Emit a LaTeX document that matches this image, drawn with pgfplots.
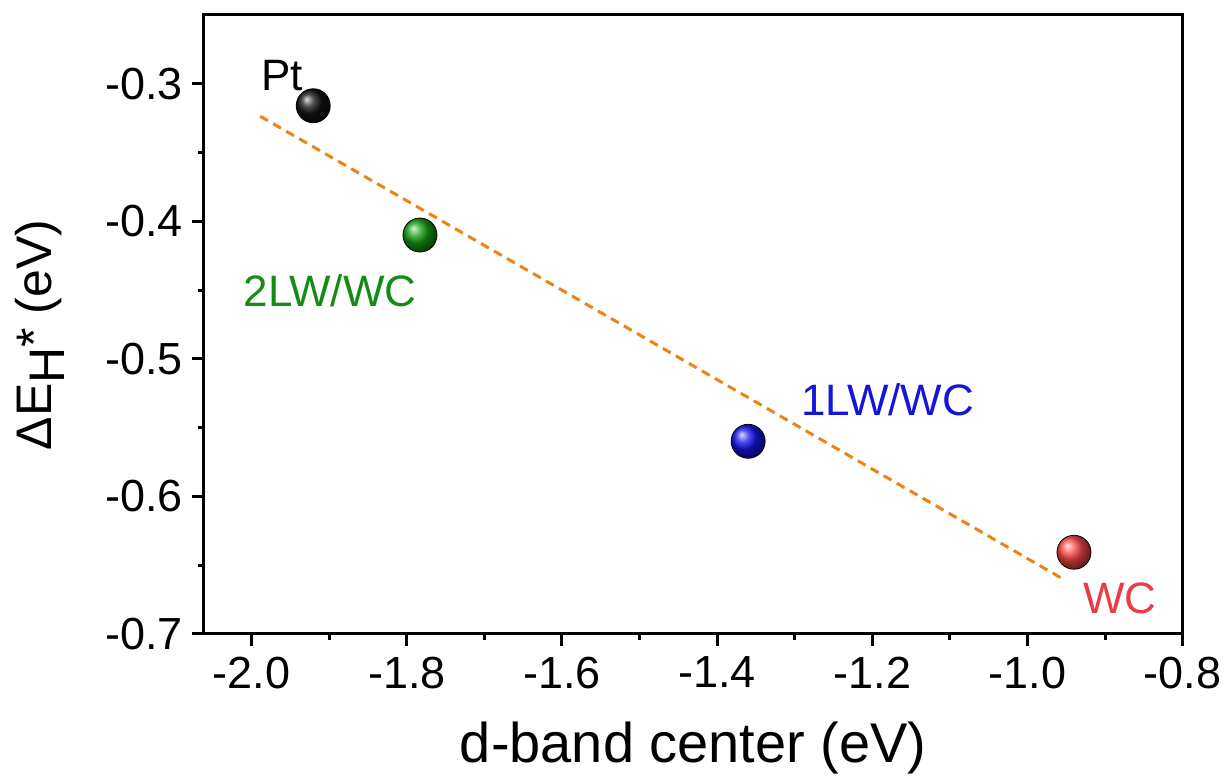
\documentclass[border=0pt]{standalone}
\usepackage{fontspec}
\setmainfont{Liberation Sans}
\usepackage{pgfplots}
\pgfplotsset{compat=1.18}
\usetikzlibrary{plotmarks}

\definecolor{ptc}{RGB}{20,20,20}
\definecolor{twoc}{RGB}{20,160,20}
\definecolor{onec}{RGB}{20,20,240}
\definecolor{wcc}{RGB}{250,70,70}
\definecolor{fitc}{RGB}{240,130,20}
\definecolor{twot}{RGB}{20,140,20}
\definecolor{onet}{RGB}{20,20,220}
\definecolor{wct}{RGB}{232,60,70}

\begin{document}
\begin{tikzpicture}
\begin{axis}[
    scale only axis,
    width=489.5pt, height=309.5pt,
    xmin=-2.0615, xmax=-0.8,
    ymin=-0.7, ymax=-0.25,
    xtick={-2.0,-1.8,...,-0.79},
    ytick={-0.7,-0.6,...,-0.29},
    minor x tick num=1,
    minor y tick num=1,
    xtick pos=left, ytick pos=left,
    tick align=outside,
    major tick length=6pt,
    minor tick length=3pt,
    axis line style={line width=1.5pt},
    every tick/.style={black, line width=1.5pt},
    /pgf/number format/assume math mode=true,
    /pgf/number format/.cd, fixed, fixed zerofill, precision=1, /pgfplots/.cd,
    tick label style={font=\fontsize{22.5}{27}\selectfont},
    xticklabel style={yshift=-2pt},
    yticklabel style={xshift=-1pt},
    xlabel={d-band center (eV)},
    ylabel={ΔE\raisebox{-0.27em}{H}* (eV)},
    xlabel style={font=\fontsize{28}{33}\selectfont, at={(axis description cs:0.5,0)}, anchor=center, yshift=-57pt},
    ylabel style={font=\fontsize{25}{30}\selectfont, at={(axis description cs:-0.1675,0.483)}, anchor=center},
    clip=false,
]
% fitted trend line
\addplot[fitc, line width=1.5pt, dash pattern=on 4.5pt off 3pt]
    coordinates {(-1.989,-0.3236) (-0.951,-0.6612)};
% data points
\addplot[only marks, mark=ball, mark size=8.5pt, mark options={ball color=ptc}]
    coordinates {(-1.9206,-0.316)};
\addplot[only marks, mark=ball, mark size=8.5pt, mark options={ball color=twoc}]
    coordinates {(-1.783,-0.41)};
\addplot[only marks, mark=ball, mark size=8.5pt, mark options={ball color=onec}]
    coordinates {(-1.360,-0.56)};
\addplot[only marks, mark=ball, mark size=8.5pt, mark options={ball color=wcc}]
    coordinates {(-0.940,-0.6407)};
% labels
\node[font=\fontsize{22}{26}\selectfont, text=black] at (axis cs:-1.961,-0.294) {Pt};
\node[font=\fontsize{22}{26}\selectfont, text=twot] at (axis cs:-1.899,-0.4503) {2LW/WC};
\node[font=\fontsize{22}{26}\selectfont, text=onet] at (axis cs:-1.18,-0.530) {1LW/WC};
\node[font=\fontsize{22}{26}\selectfont, text=wct] at (axis cs:-0.8807,-0.6743) {WC};
\end{axis}
% page frame matching the reference's margins
\path (current axis.south west) ++(-102pt,-71pt) coordinate (bbsw);
\path (current axis.north east) ++(22.5pt,7.5pt) coordinate (bbne);
\path (bbsw) rectangle (bbne);
\end{tikzpicture}
\end{document}
